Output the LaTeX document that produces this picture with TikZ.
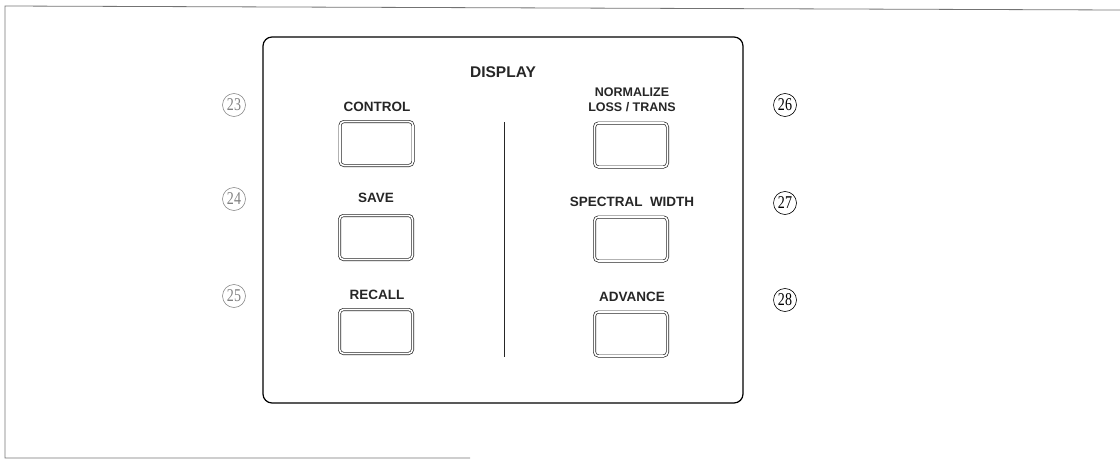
\documentclass[tikz,border=0pt]{standalone}
\usepackage{fontspec}
\setmainfont{Liberation Sans}
\newfontfamily\numfont{Liberation Serif}
\newcommand{\cdig}[1]{\scalebox{0.78}[1]{#1}}
\begin{document}
\begin{tikzpicture}[x=1pt,y=-1pt,
  lbl/.style={font=\bfseries\fontsize{13.5}{15}\selectfont, inner sep=0pt, text=black!85},
  btn/.style={draw=black!85, double=white, double distance=1.6pt, line width=0.7pt,
    rounded corners=4pt, minimum width=73pt, minimum height=44pt, inner sep=0pt},
  cnum/.style={circle, draw, line width=0.6pt, minimum size=23pt, inner sep=0pt,
    font=\numfont\fontsize{18}{18}\selectfont},
  frame/.style={draw=black!55, line width=0.8pt},
  panel/.style={draw=black, line width=1.2pt, rounded corners=9pt}]
\useasboundingbox (0,0) rectangle (1120,460);
% outer frame
\coordinate (ftl) at (5,6);
\coordinate (ftr) at (1120,10);
\coordinate (fbl) at (5,458);
\coordinate (fbr) at (470,458);
\draw[frame] (ftr) -- (ftl) -- (fbl) -- (fbr);
% panel
\draw[panel] (263,37) rectangle (743,403);
% divider
\coordinate (dv1) at (504,122);
\coordinate (dv2) at (504,357);
\draw[line width=0.9pt, black!85] (dv1) -- (dv2);
% title
\node[lbl, font=\bfseries\fontsize{15.5}{17}\selectfont] (title) at (503,72) {DISPLAY};
% left column
\node[lbl] (lcontrol) at (377,107) {CONTROL};
\node[btn] (bcontrol) at (376.5,143.5) {};
\node[lbl] (lsave) at (376,198) {SAVE};
\node[btn] (bsave) at (376,237.5) {};
\node[lbl] (lrecall) at (377,295) {RECALL};
\node[btn] (brecall) at (376,331.5) {};
% right column
\node[lbl, align=center, font=\bfseries\fontsize{12.5}{15}\selectfont] (lnorm) at (632,100) {NORMALIZE\\LOSS / TRANS};
\node[btn] (bnorm) at (631,145) {};
\node[lbl] (lspec) at (632,202) {SPECTRAL\ \ WIDTH};
\node[btn] (bspec) at (631,239) {};
\node[lbl] (ladv) at (632,297) {ADVANCE};
\node[btn] (badv) at (631,334) {};
% circled numbers
\node[cnum, draw=black!45, text=black!50] (n23) at (234,105) {\cdig{23}};
\node[cnum, draw=black!45, text=black!50] (n24) at (234,199) {\cdig{24}};
\node[cnum, draw=black!45, text=black!50] (n25) at (234,296) {\cdig{25}};
\node[cnum] (n26) at (785,105) {\cdig{26}};
\node[cnum] (n27) at (785,203) {\cdig{27}};
\node[cnum] (n28) at (785,300) {\cdig{28}};
\end{tikzpicture}
\end{document}
